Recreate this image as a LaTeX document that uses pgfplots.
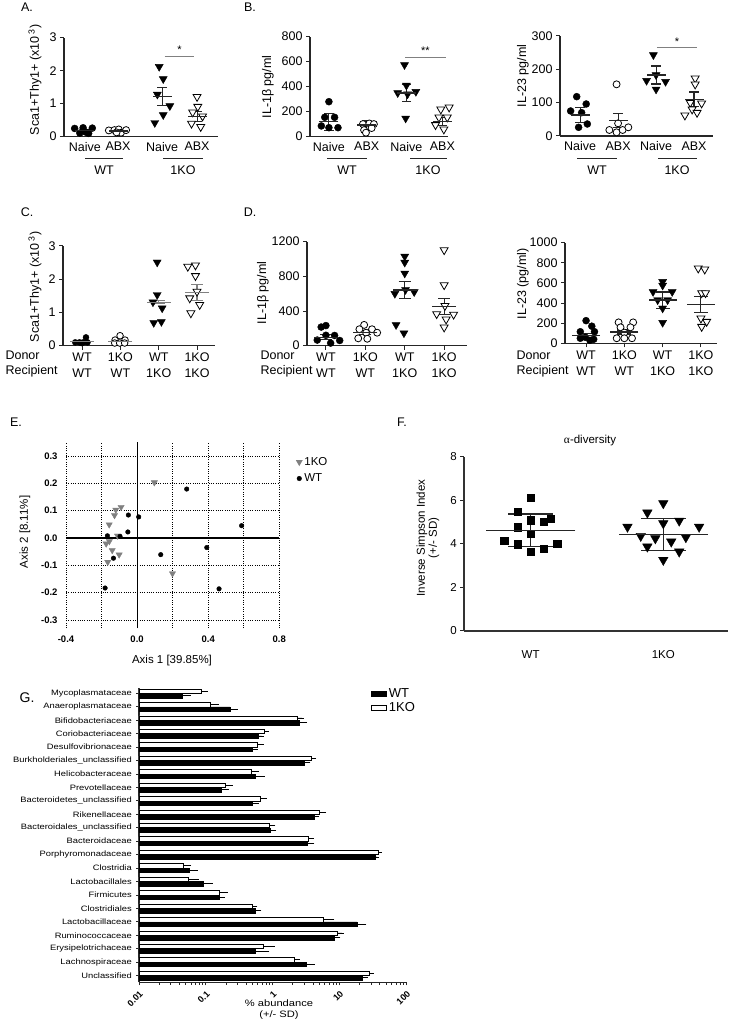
\documentclass[border=0pt]{standalone}
\usepackage{fontspec}
\setmainfont{Liberation Sans}
\newfontfamily\serif{Liberation Serif}
\usepackage{pgfplots}
\pgfplotsset{compat=1.18}
\definecolor{tgray}{RGB}{128,128,128}
\newcommand{\fs}[1]{\fontsize{#1}{#1}\selectfont}
\begin{document}
\begin{tikzpicture}
\useasboundingbox (0,0) rectangle (732pt,1020pt);
\pgfplotsset{
  /pgf/number format/assume math mode=true,
  /pgf/number format/1000 sep={},
  prism/.style={scale only axis, anchor=south west, axis lines=left,
    axis line style={-, line width=1.1pt, black!85}, clip=false,
    ytick align=outside, ytick style={line width=1pt, black!85},
    major tick length=4pt, xtick style={draw=none},
    tick label style={font=\fs{12.5}}},
  xticks/.style={xtick style={draw=black!85, line width=1pt}, xtick align=outside,
    xticklabel style={align=center, font=\fontsize{12.5}{16}\selectfont}},
  fdot/.style={only marks, mark=*, mark size=3.5pt, mark options={fill=black, draw=black}},
  odot/.style={only marks, mark=*, mark size=3.5pt, mark options={fill=white, draw=black, line width=0.8pt}},
  ftri/.style={only marks, mark=triangle*, mark size=4.6pt, mark options={rotate=180, fill=black, draw=black}},
  otri/.style={only marks, mark=triangle*, mark size=4.6pt, mark options={rotate=180, fill=white, draw=black, line width=0.8pt}},
  msem/.style n args={3}{only marks, mark=-, mark size=#1, color=#3,
    mark options={line width=1.2pt, draw=#3},
    error bars/.cd, y dir=both, y explicit, error bar style={line width=1.1pt, #3},
    error mark options={rotate=90, mark size=#2, line width=1.1pt, #3}},
}
% ---------------- panel labels ----------------
\node[font=\fs{12.5}] at (27pt,1013pt) {A.};
\node[font=\fs{12.5}] at (250pt,1013pt) {B.};
\node[font=\fs{12.5}] at (27pt,808pt) {C.};
\node[font=\fs{12.5}] at (250pt,808pt) {D.};
\node[font=\fs{12.5}] at (16pt,598pt) {E.};
\node[font=\fs{12.5}] at (402pt,598pt) {F.};
\node[font=\fs{14}] at (27pt,322pt) {G.};
% ---------------- A ----------------
\begin{axis}[prism, at={(64pt,883.3pt)}, width=154pt, height=99pt,
  xmin=0.43, xmax=4.62, ymin=0, ymax=3, ytick={0,1,2,3},
  xtick={1,1.9,3.1,4.05}, xticklabels={Naive,ABX,Naive,ABX}]
\addplot[fdot] coordinates {(0.72,0.25) (0.86,0.11) (0.95,0.27) (1.02,0.14) (1.1,0.1) (1.2,0.26)};
\addplot[odot] coordinates {(1.65,0.19) (1.8,0.2) (1.92,0.22) (1.98,0.12) (2.12,0.2) (1.86,0.13)};
\addplot[ftri] coordinates {(3.02,2.12) (3.13,1.75) (2.97,1.28) (3.31,0.93) (3.13,0.66) (2.9,0.42)};
\addplot[otri] coordinates {(4.05,1.21) (4.07,0.91) (3.93,0.74) (4.2,0.62) (3.9,0.4) (4.15,0.3)};
\addplot[msem={9.5pt}{4.7pt}{black!85}] coordinates {(1,0.18) +- (0,0.04) (1.9,0.17) +- (0,0.02) (3.1,1.22) +- (0,0.27) (4.05,0.62) +- (0,0.15)};
\draw[gray, line width=0.8pt] (axis cs:3.17,2.43) -- (axis cs:3.97,2.43);
\node[font=\fs{11}] at (axis cs:3.57,2.65) {*};
\end{axis}
\node[rotate=90, font=\fs{12.5}] at (35pt,940pt) {Sca1+Thy1+ (x10\textsuperscript{ 3})};
\draw[black!85, line width=0.9pt] (85pt,861.5pt) -- (123pt,861.5pt) (163pt,861.5pt) -- (203pt,861.5pt);
\node[font=\fs{12.5}] at (104pt,850pt) {WT};
\node[font=\fs{12.5}] at (183pt,850pt) {1KO};
% ---------------- B ----------------
\begin{axis}[prism, at={(310pt,883.3pt)}, width=138pt, height=100pt,
  xmin=0.5, xmax=4.15, ymin=0, ymax=800, ytick={0,200,400,600,800},
  xtick={1,2,3.05,4}, xticklabels={Naive,ABX,Naive,ABX}]
\addplot[fdot] coordinates {(1.0,280) (0.89,155) (1.15,155) (0.8,86) (1.0,72) (1.24,72)};
\addplot[odot] coordinates {(1.9,101) (2.07,106) (2.19,101) (1.93,53) (2.13,69) (1.98,32)};
\addplot[ftri] coordinates {(3.0,574) (3.05,410) (2.82,350) (3.3,360) (3.08,340) (3.03,147)};
\addplot[otri] coordinates {(3.96,219) (4.18,235) (3.91,155) (4.13,155) (3.82,94) (4.04,59)};
\addplot[msem={9.5pt}{4.7pt}{black!85}] coordinates {(1,120) +- (0,68) (2,93) +- (0,34) (3.05,350) +- (0,70) (4,120) +- (0,30)};
\draw[gray, line width=0.8pt] (axis cs:3.02,635) -- (axis cs:4.09,635);
\node[font=\fs{11}] at (axis cs:3.55,690) {**};
\end{axis}
\node[rotate=90, font=\fs{12.5}] at (268pt,933pt) {IL-1β pg/ml};
\draw[black!85, line width=0.9pt] (327pt,861.5pt) -- (367pt,861.5pt) (410pt,861.5pt) -- (447pt,861.5pt);
\node[font=\fs{12.5}] at (347pt,850pt) {WT};
\node[font=\fs{12.5}] at (428pt,850pt) {1KO};
% ---------------- B2 ----------------
\begin{axis}[prism, at={(560pt,884pt)}, width=153pt, height=100pt,
  xmin=0.47, xmax=4.5, ymin=0, ymax=300, ytick={0,100,200,300},
  xtick={1,2,3,4}, xticklabels={Naive,ABX,Naive,ABX}]
\addplot[fdot] coordinates {(0.91,118) (1.16,96) (0.75,75) (1.04,70) (0.96,26) (1.19,36)};
\addplot[odot] coordinates {(1.96,155) (2.0,38) (1.77,18) (1.96,11) (2.12,18) (2.27,26)};
\addplot[ftri] coordinates {(2.93,243) (3.0,183) (2.75,166) (3.25,163) (3.0,140)};
\addplot[otri] coordinates {(4.03,173) (4.03,155) (3.9,100) (4.2,98) (3.95,80) (4.08,70) (3.76,62)};
\addplot[msem={9.5pt}{4.7pt}{black!85}] coordinates {(1,63) +- (0,23) (2,46) +- (0,21) (3,183) +- (0,27) (4,110) +- (0,22)};
\draw[gray, line width=0.8pt] (axis cs:3.02,266) -- (axis cs:4.07,266);
\node[font=\fs{11}] at (axis cs:3.55,282) {*};
\end{axis}
\node[rotate=90, font=\fs{12.5}] at (523pt,944pt) {IL-23 pg/ml};
\draw[black!85, line width=0.9pt] (577pt,861.5pt) -- (617pt,861.5pt) (658pt,861.5pt) -- (697pt,861.5pt);
\node[font=\fs{12.5}] at (597pt,850pt) {WT};
\node[font=\fs{12.5}] at (677pt,850pt) {1KO};
% ---------------- C ----------------
\begin{axis}[prism, xticks, at={(63pt,674.3pt)}, width=152pt, height=99.7pt,
  xmin=0.5, xmax=4.47, ymin=0, ymax=3, ytick={0,1,2,3},
  xtick={1,2,3,4}, xticklabels={{WT\\WT},{1KO\\WT},{WT\\1KO},{1KO\\1KO}}]
\addplot[fdot, mark size=3pt] coordinates {(0.82,0.1) (0.93,0.1) (1.03,0.1) (1.14,0.1) (1.1,0.25) (0.98,0.08)};
\addplot[odot, mark size=3.3pt] coordinates {(1.99,0.3) (1.86,0.17) (2.12,0.17) (1.85,0.08) (1.98,0.08) (2.11,0.08)};
\addplot[ftri] coordinates {(2.96,2.51) (2.96,1.53) (2.85,1.31) (3.09,1.13) (2.87,0.69) (3.07,0.72)};
\addplot[otri] coordinates {(3.76,2.38) (3.96,2.42) (3.96,2.1) (4.0,1.63) (3.81,1.43) (4.07,1.23) (3.84,0.98)};
\addplot[msem={12pt}{6pt}{gray}] coordinates {(1,0.12) +- (0,0.02) (2,0.12) +- (0,0.03) (3,1.31) +- (0,0.04) (4,1.6) +- (0,0.25)};
\end{axis}
\node[rotate=90, font=\fs{12.5}] at (35pt,733pt) {Sca1+Thy1+ (x10\textsuperscript{ 3})};
\node[anchor=west, font=\fs{12.5}] at (2pt,665pt) {Donor};
\node[anchor=west, font=\fs{12.5}] at (2pt,649pt) {Recipient};
% ---------------- D ----------------
\begin{axis}[prism, xticks, at={(307pt,674.3pt)}, width=160pt, height=104pt,
  xmin=0.52, xmax=4.58, ymin=0, ymax=1200, ytick={0,400,800,1200},
  xtick={1,2,3,4}, xticklabels={{WT\\WT},{1KO\\WT},{WT\\1KO},{1KO\\1KO}}]
\addplot[fdot] coordinates {(0.88,215) (1.0,232) (1.0,120) (1.22,118) (0.78,65) (1.35,60) (1.12,30)};
\addplot[odot] coordinates {(1.97,240) (1.85,190) (2.17,190) (2.02,150) (2.3,150) (1.82,85) (2.05,80)};
\addplot[ftri] coordinates {(3.0,1030) (3.0,960) (3.0,835) (3.02,645) (2.75,600) (3.24,620) (2.78,240) (2.98,145)};
\addplot[otri] coordinates {(4.0,1104) (4.0,700) (4.02,460) (3.81,366) (4.24,360) (4.05,304) (4.0,212)};
\addplot[msem={12pt}{6pt}{black!85}] coordinates {(1,97) +- (0,30) (2,150) +- (0,22) (3,643) +- (0,95) (4,450) +- (0,90)};
\end{axis}
\node[rotate=90, font=\fs{12.5}] at (263pt,727pt) {IL-1β pg/ml};
\node[anchor=west, font=\fs{12.5}] at (257pt,665pt) {Donor};
\node[anchor=west, font=\fs{12.5}] at (257pt,649pt) {Recipient};
% ---------------- D2 ----------------
\begin{axis}[prism, xticks, at={(565pt,676.7pt)}, width=152pt, height=100.6pt,
  xmin=0.45, xmax=4.42, ymin=0, ymax=1000, ytick={0,200,400,600,800,1000},
  xtick={1,2,3,4}, xticklabels={{WT\\WT},{1KO\\WT},{WT\\1KO},{1KO\\1KO}}]
\addplot[fdot] coordinates {(1.0,225) (1.15,170) (0.85,115) (1.22,115) (0.98,60) (0.85,50) (1.1,30) (1.2,40)};
\addplot[odot] coordinates {(1.85,208) (2.23,208) (1.9,159) (2.16,159) (2.0,106) (1.8,50) (2.0,50) (2.2,50)};
\addplot[ftri] coordinates {(3.0,612) (3.0,575) (2.75,512) (3.25,512) (2.87,430) (3.13,430) (3.0,348) (3.0,205)};
\addplot[otri] coordinates {(3.93,745) (4.1,735) (4.02,500) (4.12,500) (4.0,248) (4.15,215) (4.02,165)};
\addplot[msem={14pt}{7pt}{black!85}] coordinates {(1,75) +- (0,25) (2,112) +- (0,20) (3,430) +- (0,80) (4,384) +- (0,80)};
\end{axis}
\node[rotate=90, font=\fs{12.5}] at (523pt,736pt) {IL-23 (pg/ml)};
\node[anchor=west, font=\fs{12.5}] at (513pt,665pt) {Donor};
\node[anchor=west, font=\fs{12.5}] at (513pt,649pt) {Recipient};
% ---------------- E ----------------
\begin{axis}[scale only axis, anchor=south west, at={(66pt,391.8pt)}, width=213.3pt, height=185.9pt,
  xmin=-0.4, xmax=0.8, ymin=-0.33, ymax=0.35, clip=false,
  axis line style={draw=none}, major tick length=0pt,
  xtick={-0.4,-0.2,0,0.2,0.4,0.6,0.8}, xticklabels={-0.4,{},0.0,{},0.4,{},0.8},
  ytick={-0.3,-0.2,-0.1,0,0.1,0.2,0.3}, yticklabels={-0.3,-0.2,-0.1,0.0,0.1,0.2,0.3},
  grid=major, grid style={black, line width=0.7pt, dash pattern=on 0.8pt off 1.5pt},
  tick label style={font=\bfseries\fs{9.5}},
  yticklabel style={xshift=-5pt}, xticklabel style={yshift=-4pt},
  legend style={at={(1.064,0.942)}, anchor=north west, draw=none, fill=none,
    font=\fs{11.5}, row sep=3pt}, legend cell align=left]
\draw[black, line width=1.2pt] (axis cs:0,-0.33) -- (axis cs:0,0.35);
\draw[black, line width=1.2pt] (axis cs:-0.4,0) -- (axis cs:0.8,0);
\addplot[only marks, mark=triangle*, mark size=3.6pt, mark options={rotate=180, fill=tgray, draw=tgray}]
  coordinates {(0.097,0.203) (-0.09,0.113) (-0.12,0.103) (-0.127,0.083) (-0.157,0.049) (-0.11,0.008)
  (-0.156,-0.012) (-0.174,-0.021) (-0.14,-0.045) (-0.101,-0.061) (-0.165,-0.088) (0.199,-0.13)};
\addlegendentry{1KO}
\addplot[only marks, mark=*, mark size=2.3pt, mark options={fill=black, draw=black}]
  coordinates {(0.279,0.179) (-0.049,0.084) (0.009,0.077) (0.588,0.045) (-0.052,0.022) (-0.167,0.008)
  (-0.096,0.006) (0.392,-0.035) (0.133,-0.061) (-0.133,-0.074) (-0.18,-0.183) (0.461,-0.186)};
\addlegendentry{WT}
\end{axis}
\node[rotate=90, font=\fs{11.5}] at (25pt,488pt) {Axis 2 [8.11\%]};
\node[font=\fs{11.5}] at (172pt,359pt) {Axis 1 [39.85\%]};
% ---------------- F ----------------
\begin{axis}[prism, at={(464.3pt,389pt)}, width=264pt, height=174.3pt,
  axis line style={-, line width=1.8pt, black!80},
  xmin=0.5, xmax=2.49, ymin=0, ymax=8, ytick={0,2,4,6,8},
  xtick={1,2}, xticklabels={WT,1KO}, tick label style={font=\fs{11.5}},
  xticklabel style={yshift=-14pt}]
\addplot[only marks, mark=square*, mark size=3.6pt, mark options={fill=black, draw=black}]
  coordinates {(1.0,6.11) (0.9,5.47) (1.0,5.09) (1.15,5.14) (1.1,5.01) (0.9,4.76) (1.0,4.45)
  (0.8,4.14) (0.9,3.98) (1.2,3.99) (1.1,3.76) (1.0,3.64)};
\addplot[only marks, mark=triangle*, mark size=5.5pt, mark options={rotate=180, fill=black, draw=black}]
  coordinates {(2.0,5.86) (1.88,5.43) (2.12,5.06) (2.0,4.94) (1.73,4.78) (2.27,4.78) (1.83,4.36)
  (1.94,4.25) (2.17,4.3) (2.06,4.1) (1.88,3.87) (2.12,3.64) (2.0,3.26)};
\addplot[msem={44.7pt}{22.5pt}{black!85}] coordinates {(1,4.63) +- (0,0.74) (2,4.43) +- (0,0.72)};
\end{axis}
\node[font=\fs{11.5}] at (590pt,579pt) {{\serif α}-diversity};
\node[rotate=90, align=center, font=\fontsize{11.5}{12}\selectfont] at (428pt,482pt) {Inverse Simpson Index\\(+/- SD)};
% ---------------- G ----------------
\begin{axis}[scale only axis, anchor=south west, at={(139pt,37.7pt)}, width=267.4pt, height=294.3pt,
  xmode=log, log origin x=infty, xmin=0.01, xmax=100, ymin=0.5, ymax=22.4,
  axis lines=left, axis line style={-, line width=1.4pt, black!85}, clip=false,
  tick align=outside, major tick length=3pt, minor tick length=2.5pt,
  tick style={black!85, line width=0.8pt},
  xtick={0.01,0.1,1,10,100}, xticklabels={0.01,0.1,1,10,100},
  minor xtick={0.02,0.03,0.04,0.05,0.06,0.07,0.08,0.09,0.2,0.3,0.4,0.5,0.6,0.7,0.8,0.9,
    2,3,4,5,6,7,8,9,20,30,40,50,60,70,80,90},
  xticklabel style={rotate=45, anchor=north east, font=\bfseries\fs{9}},
  ytick={1,...,22},
  yticklabels={Unclassified,Lachnospiraceae,Erysipelotrichaceae,Ruminococcaceae,Lactobacillaceae,
    Clostridiales,Firmicutes,Lactobacillales,Clostridia,Porphyromonadaceae,Bacteroidaceae,
    Bacteroidales\_unclassified,Rikenellaceae,Bacteroidetes\_unclassified,Prevotellaceae,
    Helicobacteraceae,Burkholderiales\_unclassified,Desulfovibrionaceae,Coriobacteriaceae,
    Bifidobacteriaceae,Anaeroplasmataceae,Mycoplasmataceae},
  yticklabel style={font=\fs{7.8}, xscale=1.2},
  xbar, bar width=4.4pt,
  legend style={at={(0.856,1.013)}, anchor=north west, draw=none, fill=none,
    font=\fs{13}, row sep=0pt}, legend cell align=left]
\addplot[fill=black, draw=black, bar shift=-2.3pt, forget plot,
  error bars/.cd, x dir=plus, x explicit, error bar style={line width=0.8pt, black},
  error mark options={mark size=2pt, line width=0.8pt, black}]
coordinates {
(22.0,1) +- (2.8,0) (3.16,2) +- (0.82,0) (0.543,3) +- (0.287,0) (8.4,4) +- (1.2,0)
(18.2,5) +- (5.3,0) (0.556,6) +- (0.074,0) (0.158,7) +- (0.02,0) (0.091,8) +- (0.027,0)
(0.056,9) +- (0.0148,0) (34.2,10) +- (2.1,0) (3.3,11) +- (0.63,0) (0.91,12) +- (0.14,0)
(4.17,13) +- (0.5,0) (0.494,14) +- (0.081,0) (0.172,15) +- (0.032,0) (0.543,16) +- (0.165,0)
(2.95,17) +- (0.47,0) (0.50,18) +- (0.062,0) (0.608,19) +- (0.076,0) (2.48,20) +- (0.57,0)
(0.229,21) +- (0.053,0) (0.0447,22) +- (0.011,0)};
\addplot[fill=white, draw=black, bar shift=2.3pt, forget plot,
  error bars/.cd, x dir=plus, x explicit, error bar style={line width=0.8pt, black},
  error mark options={mark size=2pt, line width=0.8pt, black}]
coordinates {
(28.1,1) +- (2.4,0) (2.09,2) +- (0.28,0) (0.72,3) +- (0.28,0) (9.3,4) +- (1.5,0)
(5.74,5) +- (2.09,0) (0.494,6) +- (0.056,0) (0.158,7) +- (0.039,0) (0.0543,8) +- (0.0182,0)
(0.0457,9) +- (0.0103,0) (38.3,10) +- (1.5,0) (3.42,11) +- (0.42,0) (0.889,12) +- (0.131,0)
(4.94,13) +- (0.94,0) (0.661,14) +- (0.106,0) (0.197,15) +- (0.037,0) (0.484,16) +- (0.091,0)
(3.72,17) +- (0.45,0) (0.596,18) +- (0.088,0) (0.748,19) +- (0.062,0) (2.29,20) +- (0.43,0)
(0.117,21) +- (0.028,0) (0.084,22) +- (0.016,0)};
\addlegendimage{legend image code/.code={\draw[fill=black, draw=black, line width=0.8pt] (0pt,-2.6pt) rectangle (15pt,2.6pt);}}
\addlegendentry{WT}
\addlegendimage{legend image code/.code={\draw[fill=white, draw=black, line width=0.8pt] (0pt,-2.6pt) rectangle (15pt,2.6pt);}}
\addlegendentry{1KO}
\end{axis}
\node[font=\fs{9.3}, xscale=1.2] at (279pt,17pt) {\% abundance};
\node[font=\fs{9.3}, xscale=1.2] at (279pt,5pt) {(+/- SD)};
\end{tikzpicture}
\end{document}
